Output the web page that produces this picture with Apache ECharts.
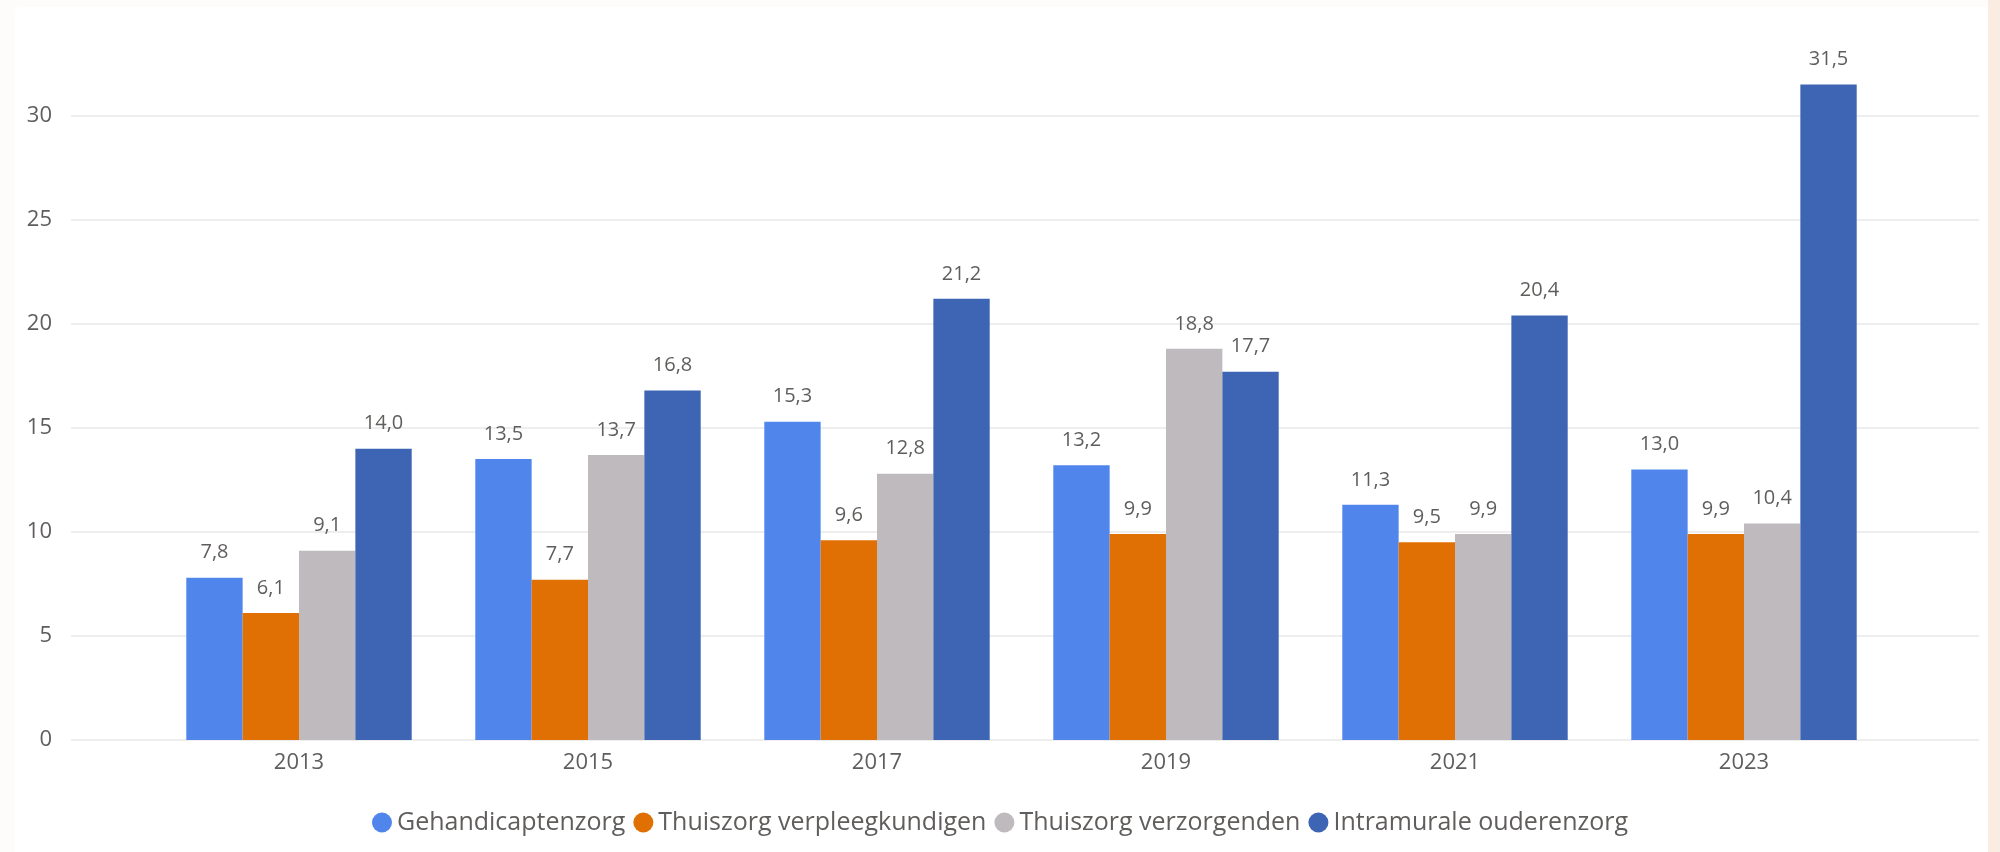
<!DOCTYPE html>
<html>
<head>
<meta charset="utf-8">
<script src="https://cdn.jsdelivr.net/npm/echarts@6/dist/echarts.min.js"></script>
<style>
  html, body { margin: 0; padding: 0; }
  body { width: 2000px; height: 852px; background: #fefcfa; position: relative; overflow: hidden; }
  .side { position: absolute; left: 1988px; top: 0; width: 12px; height: 852px; background: #faece0; }
  .card { position: absolute; left: 15px; top: 7px; width: 1973px; height: 845px; background: #fff; border-radius: 6px 0 0 0; }
  #chart { position: absolute; left: 0; top: 0; width: 2000px; height: 852px; }
</style>
</head>
<body>
<div class="card"></div>
<div class="side"></div>
<div id="chart"></div>
<script>
// jaren (categorieën)
const years = ['2013', '2015', '2017', '2019', '2021', '2023']
const seriesNames = ['Gehandicaptenzorg', 'Thuiszorg verpleegkundigen', 'Thuiszorg verzorgenden', 'Intramurale ouderenzorg']
const gehandicaptenzorg = [7.8, 13.5, 15.3, 13.2, 11.3, 13.0]
const thuiszorgVerpleeg = [6.1, 7.7, 9.6, 9.9, 9.5, 9.9]
const thuiszorgVerzorg = [9.1, 13.7, 12.8, 18.8, 9.9, 10.4]
const intramuraal = [14.0, 16.8, 21.2, 17.7, 20.4, 31.5]
const colors = ['#5086ec', '#e07003', '#bebabd', '#3d65b4']

const textColor = '#605e5c'
const font = "'Open Sans', 'Noto Sans', sans-serif"

const chart = echarts.init(document.getElementById('chart'))

const fmt = (p) => p.value.toFixed(1).replace('.', ',')

const barSeries = (name, data, color) => ({
  name,
  type: 'bar',
  xAxisIndex: 1,
  yAxisIndex: 1,
  data,
  barGap: '0%',
  barCategoryGap: '22%',
  itemStyle: { color },
  label: {
    show: true,
    position: 'top',
    distance: 15,
    color: textColor,
    fontSize: 20,
    fontFamily: font,
    formatter: fmt
  }
})

const option = {
  animation: false,
  color: colors,
  legend: {
    bottom: 12,
    left: 'center',
    icon: 'circle',
    itemWidth: 20,
    itemHeight: 20,
    itemGap: 8,
    textStyle: { color: textColor, fontSize: 25, fontFamily: font },
    data: seriesNames
  },
  grid: [
    // achtergrond met rasterlijnen, volle breedte
    { left: 71, right: 21, top: 115.7, bottom: 112 },
    // staven
    { left: 154.5, right: 111.5, top: 11.7, bottom: 112 }
  ],
  xAxis: [
    { gridIndex: 0, type: 'category', data: years, show: false },
    {
      gridIndex: 1,
      type: 'category',
      data: years,
      axisLine: { show: false },
      axisTick: { show: false },
      axisLabel: { color: textColor, fontSize: 22, fontFamily: font, margin: 12 }
    }
  ],
  yAxis: [
    {
      gridIndex: 0,
      type: 'value',
      min: 0,
      max: 30,
      interval: 5,
      axisLine: { show: false },
      axisTick: { show: false },
      axisLabel: { color: textColor, fontSize: 22, fontFamily: font, margin: 19 },
      splitLine: { lineStyle: { color: '#eeeeee', width: 2 } }
    },
    {
      gridIndex: 1,
      type: 'value',
      min: 0,
      max: 35,
      show: false,
      splitLine: { show: false }
    }
  ],
  series: [
    barSeries(seriesNames[0], gehandicaptenzorg, colors[0]),
    barSeries(seriesNames[1], thuiszorgVerpleeg, colors[1]),
    barSeries(seriesNames[2], thuiszorgVerzorg, colors[2]),
    barSeries(seriesNames[3], intramuraal, colors[3])
  ]
}

chart.setOption(option)
</script>
</body>
</html>
